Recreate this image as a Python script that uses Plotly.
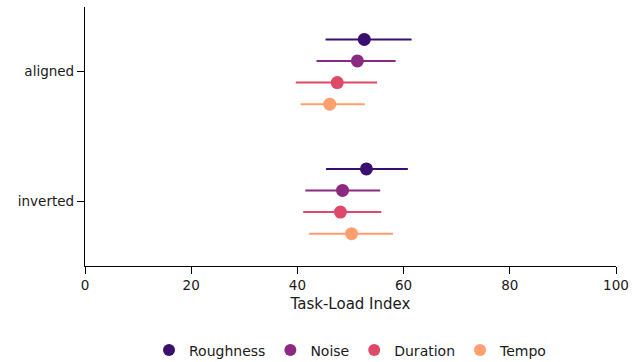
import plotly.graph_objects as go

categories = ["aligned", "inverted"]
series = ["Roughness", "Noise", "Duration", "Tempo"]
colors = ["#3b0f70", "#8c2981", "#de4968", "#fe9f6d"]
means = {
    "Roughness": [52.6, 53.0],
    "Noise": [51.3, 48.5],
    "Duration": [47.5, 48.1],
    "Tempo": [46.1, 50.2],
}
lows = {
    "Roughness": [45.3, 45.4],
    "Noise": [43.6, 41.5],
    "Duration": [39.7, 41.1],
    "Tempo": [40.6, 42.2],
}
highs = {
    "Roughness": [61.5, 60.8],
    "Noise": [58.5, 55.6],
    "Duration": [55.0, 55.8],
    "Tempo": [52.7, 58.0],
}

dodge = 0.5
n = len(series)
offsets = [-dodge / 2 + dodge * i / (n - 1) for i in range(n)]

fig = go.Figure()
for s, c, off in zip(series, colors, offsets):
    m = means[s]
    ys = [i + off for i in range(len(categories))]
    fig.add_trace(go.Scatter(
        x=m, y=ys, mode="markers", name=s,
        marker=dict(color=c, size=13, line=dict(width=0)),
        error_x=dict(type="data", symmetric=False,
                     array=[h - v for h, v in zip(highs[s], m)],
                     arrayminus=[v - l for v, l in zip(m, lows[s])],
                     color=c, thickness=2, width=0),
    ))

txt = "#1a1a1a"
fig.update_layout(
    width=643, height=362,
    margin=dict(l=84.5, r=26.5, t=7, b=96, autoexpand=False),
    plot_bgcolor="white", paper_bgcolor="white",
    font=dict(family="DejaVu Sans", size=13.5, color=txt),
    showlegend=True,
    legend=dict(orientation="h", x=0.5, xanchor="center", y=-0.326, yanchor="middle",
                font=dict(family="DejaVu Sans", size=14, color=txt),
                itemsizing="constant"),
    xaxis=dict(range=[0, 100], tickvals=[0, 20, 40, 60, 80, 100], automargin=False,
               showgrid=False, zeroline=False, showline=True, linecolor="black", linewidth=1.3,
               ticks="outside", ticklen=7, tickwidth=1.3, tickcolor="black",
               tickfont=dict(family="DejaVu Sans", size=13.5, color=txt),
               title=dict(text="Task-Load Index", font=dict(family="DejaVu Sans", size=15, color=txt), standoff=6)),
    yaxis=dict(range=[1.5, -0.5], tickvals=[0, 1], ticktext=categories, automargin=False,
               showgrid=False, zeroline=False, showline=True, linecolor="black", linewidth=1.3,
               ticks="outside", ticklen=7, tickwidth=1.3, tickcolor="black",
               tickfont=dict(family="DejaVu Sans", size=13.5, color=txt)),
)
fig.write_html("out.html")
